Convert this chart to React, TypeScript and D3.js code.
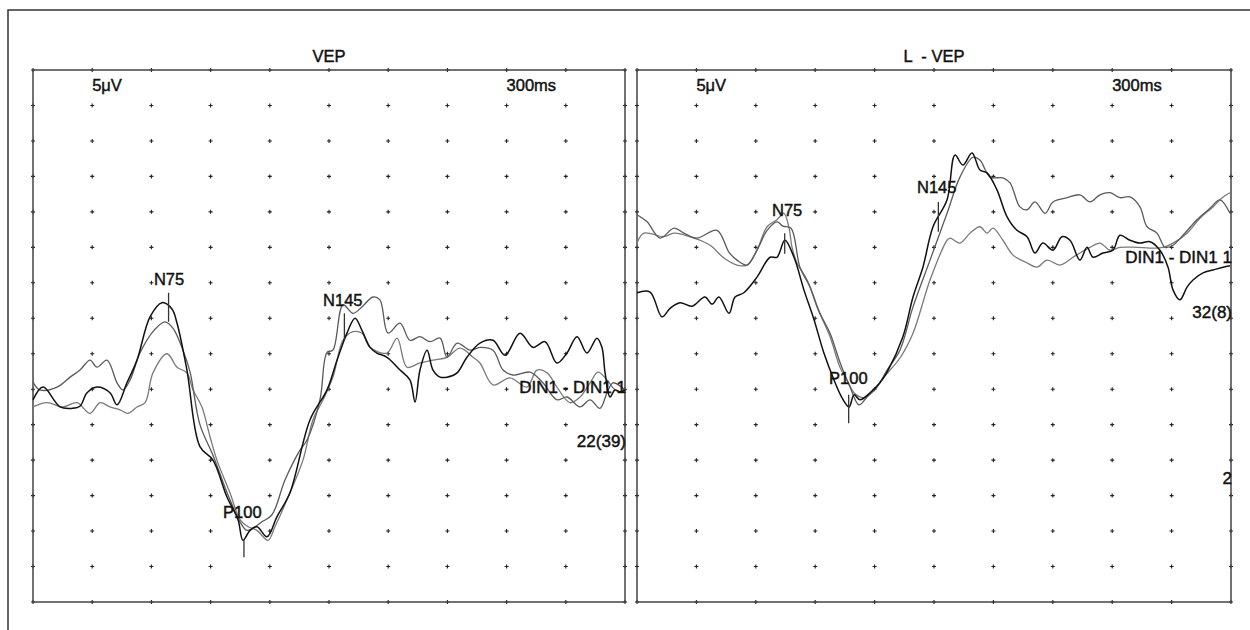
import React from "react";
import * as d3 from "d3";

const width = 1250;
const height = 630;

// time (ms) / amplitude (µV, negative up)
const leftBlack: [number, number][] = [
  [0, 9.0], [5.1, 7.2], [13.7, 10.0], [19.8, 10.2], [23.8, 9.9], [27.4, 8.0], [32.4, 7.2],
  [39.0, 8.0], [42.6, 9.7], [47.6, 6.6], [52.7, 3.4], [59.3, -2.7], [65.4, -4.7], [70.4, -3.8],
  [73.0, -1.8], [78.0, 4.8], [84.6, 15.6], [91.2, 17.5], [98.3, 22.7], [103.9, 25.9],
  [106.4, 28.8], [110.0, 27.4], [113.5, 26.9], [118.6, 28.3], [123.6, 25.5], [130.2, 22.1],
  [140.4, 11.8], [149.0, 7.6], [154.1, 3.4], [159.1, -0.4], [163.2, -2.5], [166.7, -0.8],
  [170.8, 1.6], [174.3, 2.4], [179.4, 3.0], [186.0, 4.8], [191.0, 6.2], [193.6, 9.3],
  [196.1, 4.8], [199.7, 2.0], [202.7, 4.8], [206.3, 5.8], [209.8, 5.8], [214.9, 5.2],
  [219.9, 3.0], [226.5, 1.0], [233.1, 0.6], [239.2, 2.7], [246.8, -0.4], [253.4, 1.6],
  [259.5, 0.8], [265.5, 3.8], [270.6, 2.4], [275.7, 0.1], [280.7, 2.4], [285.8, 0.3],
  [288.3, 1.6], [289.9, 5.2], [292.4, 8.6], [294.9, 7.6], [297.5, 7.9], [300, 7.6],
];

const leftGray1: [number, number][] = [
  [0, 6.5], [3.5, 7.6], [12.2, 7.2], [18.8, 5.8], [23.8, 4.8], [28.9, 3.4], [32.4, 4.4],
  [37.5, 3.4], [42.6, 6.6], [45.6, 7.6], [49.2, 6.2], [54.2, 2.4], [61.3, -0.8], [66.9, -2.0],
  [70.9, -1.1], [76.0, 2.0], [79.6, 5.1], [84.6, 12.5], [91.2, 16.8], [98.8, 22.4],
  [104.9, 26.2], [108.4, 27.4], [112.5, 26.9], [116.0, 26.2], [121.1, 25.2], [127.7, 20.3],
  [135.3, 16.1], [138.8, 14.7], [145.4, 9.0], [149.0, 2.3], [152.0, 2.0], [157.1, -4.4],
  [162.2, -3.2], [166.7, -4.1], [172.3, -5.5], [175.8, -5.1], [179.9, -0.4], [186.0, -1.8],
  [191.0, 0.6], [196.1, 0.1], [201.2, 0.8], [206.3, 0.3], [209.8, 3.0], [214.9, 1.0],
  [221.5, 2.0], [226.5, 1.6], [233.1, 2.0], [238.2, 4.8], [243.2, 5.5], [251.9, 5.1],
  [258.4, 6.6], [265.5, 9.0], [270.6, 8.6], [277.2, 10.0], [282.3, 9.0], [287.3, 10.2],
  [290.9, 8.0], [293.9, 6.6], [300, 7.6],
];

const leftGray2: [number, number][] = [
  [0, 10.0], [7.1, 9.4], [15.2, 10.0], [22.3, 9.4], [28.9, 10.9], [34.0, 9.4], [39.0, 10.0],
  [44.1, 10.4], [48.1, 10.9], [52.7, 10.0], [56.8, 9.4], [60.8, 5.2], [67.9, 2.5], [73.0, 4.4],
  [78.0, 5.2], [81.1, 7.6], [85.6, 10.0], [89.7, 14.2], [93.2, 17.5], [99.8, 22.1],
  [104.9, 25.9], [109.0, 26.9], [113.5, 27.4], [119.1, 28.8], [122.6, 26.9], [128.7, 23.1],
  [136.8, 17.5], [141.9, 11.8], [147.0, 9.0], [152.0, 5.8], [157.1, 0.6], [162.2, -0.6],
  [166.7, -0.4], [170.8, 1.6], [179.4, 2.4], [184.5, 0.3], [189.5, 4.4], [196.1, 3.8],
  [202.7, 3.4], [209.8, 3.0], [216.4, 1.7], [223.0, 3.0], [226.5, 3.8], [233.1, 6.9],
  [241.7, 5.9], [250.3, 7.2], [255.4, 4.8], [260.5, 5.2], [265.5, 7.2], [272.1, 9.4],
  [277.2, 8.6], [282.3, 6.6], [286.3, 5.1], [290.9, 6.2], [294.9, 7.6], [299, 7.9],
];

const rightBlack: [number, number][] = [
  [0, -6.1], [6.6, -6.2], [12.6, -2.7], [16.7, -3.9], [21.7, -4.7], [27.8, -4.2], [34.3, -5.5],
  [37.9, -4.5], [41.4, -5.5], [46.5, -3.2], [49.5, -5.5], [54.0, -6.1], [60.6, -8.3],
  [67.2, -11.1], [70.7, -11.1], [74.7, -13.5], [79.3, -11.1], [84.3, -6.5], [89.4, -2.3],
  [94.4, 2.4], [99.5, 6.2], [103.5, 8.7], [107.1, 10.0], [109.6, 8.3], [112.6, 9.0],
  [117.7, 8.0], [122.7, 6.6], [126.3, 5.1], [134.3, 0.1], [139.4, -5.5], [144.4, -9.7],
  [149.5, -15.4], [156.6, -19.2], [160.6, -25.5], [164.6, -24.1], [169.2, -25.8],
  [173.2, -23.4], [176.8, -23.0], [181.8, -20.6], [186.9, -16.8], [191.9, -14.9],
  [197.0, -14.0], [201.0, -11.7], [205.0, -13.1], [210.1, -12.1], [214.6, -14.0],
  [218.7, -13.5], [223.7, -10.7], [227.3, -12.5], [230.3, -11.1], [235.3, -11.7],
  [240.4, -12.1], [243.9, -14.2], [249.0, -13.5], [254.0, -13.1], [259.1, -13.3],
  [264.1, -12.1], [268.2, -9.7], [270.7, -6.5], [274.2, -5.1], [277.8, -6.9], [280.8, -7.9],
  [285.9, -8.9], [290.9, -9.3], [296.0, -9.7], [299.5, -9.9],
];

const rightGray1: [number, number][] = [
  [0, -17.1], [5.1, -16.1], [11.6, -13.8], [18.7, -15.2], [23.7, -14.5], [30.3, -13.8],
  [40.4, -14.9], [46.5, -11.8], [50.5, -10.7], [55.6, -10.0], [60.6, -12.1], [65.7, -14.9],
  [70.7, -16.1], [73.7, -15.5], [77.8, -15.2], [82.3, -9.7], [87.4, -6.9], [92.4, -3.2],
  [97.5, -0.4], [102.5, 3.7], [107.6, 7.2], [112.1, 9.7], [116.2, 8.6], [121.2, 7.2],
  [126.3, 4.8], [132.8, 2.0], [139.4, -4.1], [148.0, -10.7], [156.6, -17.3], [163.1, -22.4],
  [169.7, -25.2], [173.2, -24.8], [178.3, -22.4], [184.8, -22.3], [188.4, -21.6],
  [193.4, -18.2], [197.0, -17.8], [201.0, -18.9], [206.1, -17.3], [210.1, -18.9],
  [217.2, -19.5], [223.7, -19.9], [228.8, -18.9], [233.8, -19.9], [238.9, -20.2],
  [243.9, -19.5], [249.0, -19.6], [254.0, -18.2], [257.6, -15.4], [262.6, -14.5],
  [266.7, -12.5], [270.7, -12.8], [275.8, -14.2], [282.8, -16.4], [289.4, -18.0],
  [294.4, -19.2], [299.5, -17.3],
];

const rightGray2: [number, number][] = [
  [0, -13.1], [3.5, -14.5], [13.6, -14.0], [18.7, -14.5], [28.8, -13.8], [36.9, -12.8],
  [43.9, -11.0], [50.5, -10.0], [55.6, -10.0], [60.6, -12.1], [65.7, -15.4], [70.7, -16.4],
  [74.2, -17.3], [76.8, -15.2], [78.3, -12.5], [80.8, -10.3], [85.9, -7.9], [90.9, -4.1],
  [97.5, 0.1], [102.5, 4.4], [106.1, 6.2], [109.6, 8.0], [114.6, 8.7], [119.7, 7.6],
  [124.7, 5.8], [132.8, 3.1], [139.4, -0.4], [148.0, -7.9], [156.6, -13.5], [158.1, -13.8],
  [163.1, -13.1], [168.2, -14.5], [173.2, -15.4], [176.8, -14.5], [179.8, -15.2],
  [184.8, -13.5], [189.9, -11.4], [197.0, -10.3], [202.0, -9.7], [207.1, -10.7],
  [213.6, -10.0], [220.2, -11.1], [223.7, -11.7], [228.8, -12.5], [233.8, -13.1],
  [238.9, -12.1], [243.9, -12.5], [252.5, -12.5], [259.1, -12.4], [265.7, -12.5],
  [270.7, -13.1], [277.8, -14.5], [284.3, -16.6], [290.9, -18.2], [296.0, -19.6],
  [299.5, -20.2],
];

// markers: name, latency (ms), line from/to (µV), label at (ms, µV)
type Marker = { name: string; t: number; a0: number; a1: number; lt: number; la: number };
const leftMarkers: Marker[] = [
  { name: "N75", t: 68.7, a0: -6.1, a1: -2.0, lt: 61.3, la: -7.2 },
  { name: "P100", t: 106.9, a0: 28.8, a1: 31.2, lt: 96.3, la: 25.7 },
  { name: "N145", t: 157.8, a0: -3.2, a1: 0.6, lt: 147.0, la: -4.2 },
];
const rightMarkers: Marker[] = [
  { name: "N75", t: 74.6, a0: -14.5, a1: -11.6, lt: 68.2, la: -16.9 },
  { name: "P100", t: 106.9, a0: 8.3, a1: 12.3, lt: 97.0, la: 6.8 },
  { name: "N145", t: 152.2, a0: -18.9, a1: -14.7, lt: 141.4, la: -20.2 },
];

// side notes at the right edge: text, amplitude of baseline
const leftNotes: [string, number][] = [["DIN1 - DIN1 1", 8.0], ["22(39)", 15.6]];
const rightNotes: [string, number][] = [["DIN1 - DIN1 1", -10.3], ["32(8)", -2.5], ["2", 20.9]];

const timeTicks = d3.range(0, 301, 30);
const ampTicks = d3.range(-37.5, 37.6, 5);

const traceColors = ["#111", "#5a5a5a", "#7a7a7a"];
const traceWidths = [1.5, 1.3, 1.3];

const font = "'Liberation Sans', Arial, sans-serif";

const panels = [
  {
    title: "VEP",
    range: [33, 625],
    traces: [leftGray2, leftGray1, leftBlack],
    markers: leftMarkers,
    notes: leftNotes,
  },
  {
    title: "L  - VEP",
    range: [637, 1231],
    traces: [rightGray2, rightGray1, rightBlack],
    markers: rightMarkers,
    notes: rightNotes,
  },
];

const y = d3.scaleLinear().domain([-37.5, 37.5]).range([70, 602]);

// regular face with a thin outline, to get the medium weight of the printout
const txt = { fill: "#111", stroke: "#111", strokeWidth: 0.45 };

function Panel({ p }: { p: (typeof panels)[number] }) {
  const x = d3.scaleLinear().domain([0, 300]).range(p.range);
  const line = d3
    .line<[number, number]>()
    .x(d => x(d[0]))
    .y(d => y(d[1]))
    .curve(d3.curveCatmullRom.alpha(0.5));
  const [x0, x1] = p.range;
  const [yTop, yBot] = [y(-37.5), y(37.5)];
  // gray traces first, black on top
  const order = [2, 1, 0];
  return (
    <g>
      <text x={(x0 + x1) / 2} y={yTop - 8} textAnchor="middle" fontSize={16.5} style={{ whiteSpace: "pre" }} {...txt}>
        {p.title}
      </text>
      {timeTicks.map(t =>
        ampTicks.map(a => (
          <path
            key={`${t}_${a}`}
            d={`M${x(t) - 2},${y(a)}h4M${x(t)},${y(a) - 2}v4`}
            stroke="#222"
            strokeWidth={1.1}
          />
        ))
      )}
      <rect x={x0} y={yTop} width={x1 - x0} height={yBot - yTop} fill="none" stroke="#444" strokeWidth={1.5} />
      <text x={x(30)} y={yTop + 21} fontSize={16.5} {...txt}>5μV</text>
      <text x={x(240)} y={yTop + 21} fontSize={16.5} {...txt}>300ms</text>
      {p.traces.map((tr, i) => (
        <path
          key={i}
          d={line(tr) ?? ""}
          fill="none"
          stroke={traceColors[order[i]]}
          strokeWidth={traceWidths[order[i]]}
          strokeLinejoin="round"
        />
      ))}
      {p.markers.map(m => (
        <g key={m.name}>
          <line x1={x(m.t)} x2={x(m.t)} y1={y(m.a0)} y2={y(m.a1)} stroke="#333" strokeWidth={1.3} />
          <text x={x(m.lt)} y={y(m.la)} fontSize={16.5} {...txt}>{m.name}</text>
        </g>
      ))}
      {p.notes.map(([s, a]) => (
        <text key={s} x={x1 + 1} y={y(a)} textAnchor="end" fontSize={17} {...txt}>
          {s}
        </text>
      ))}
    </g>
  );
}

export default function App() {
  return (
    <svg
      width={width}
      height={height}
      viewBox={`0 0 ${width} ${height}`}
      style={{ position: "absolute", left: 0, top: 0, background: "#fff", fontFamily: font }}
    >
      <path d={`M8,${height}V10H${width}`} fill="none" stroke="#333" strokeWidth={1.5} />
      {panels.map(p => (
        <Panel key={p.title} p={p} />
      ))}
    </svg>
  );
}
